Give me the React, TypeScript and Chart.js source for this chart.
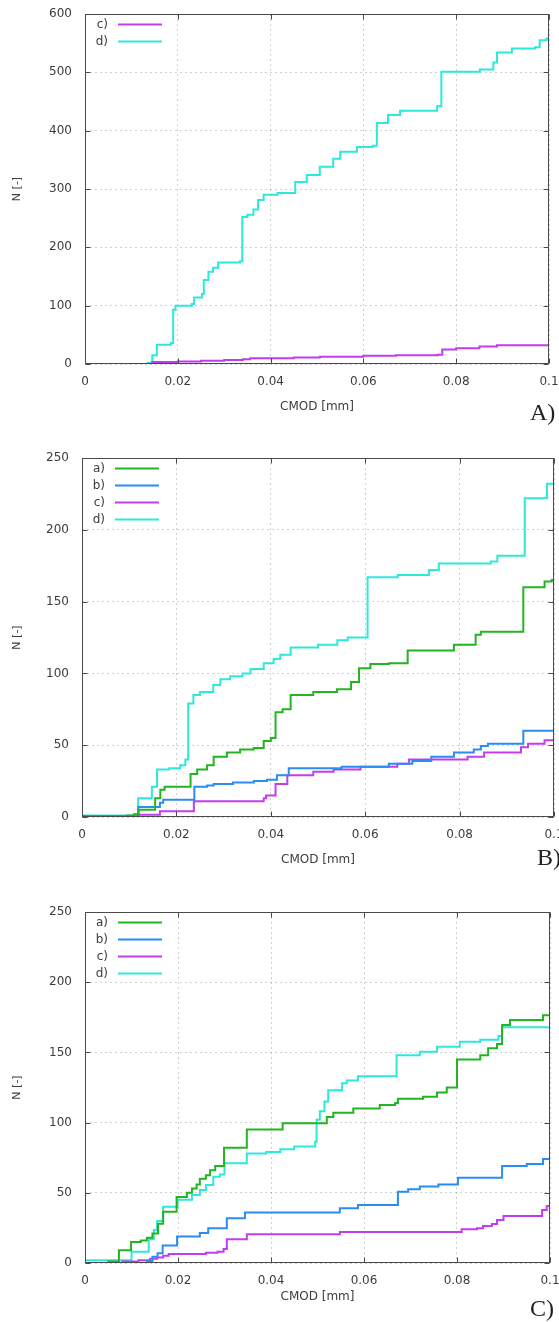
import React, { useEffect, useRef } from 'react';
import { Chart, registerables } from 'chart.js';

Chart.register(...registerables);

type Pt = [number, number];

// ---------- data ----------
const seriesNames = ['a)', 'b)', 'c)', 'd)'];
const seriesColors = ['#22b522', '#2b8cf2', '#c23cf0', '#2ee8da'];

const xTickValues = [0, 0.02, 0.04, 0.06, 0.08, 0.1];
const xTickLabels = ['0', '0.02', '0.04', '0.06', '0.08', '0.1'];
const yTicksA = [0, 100, 200, 300, 400, 500, 600];
const yTicksBC = [0, 50, 100, 150, 200, 250];

// Panel A
const A_c: Pt[] = [[0, 0], [0.0145, 3.5], [0.02, 4.5], [0.025, 5.7], [0.03, 7], [0.034, 8], [0.0356, 10], [0.045, 11], [0.0506, 12.5], [0.06, 14], [0.067, 15], [0.076, 16], [0.077, 25], [0.08, 27], [0.085, 30], [0.0888, 32], [0.1, 32]];
const A_d: Pt[] = [[0, 0], [0.0135, 2], [0.0145, 15], [0.0155, 33], [0.0185, 36], [0.019, 93], [0.0195, 100], [0.023, 103], [0.0235, 114], [0.0252, 120], [0.0256, 144], [0.0266, 158], [0.0276, 165], [0.0287, 174], [0.0334, 176], [0.0339, 252], [0.035, 256], [0.0363, 265], [0.0373, 281], [0.0385, 290], [0.0415, 293], [0.0453, 312], [0.0478, 324], [0.0506, 338], [0.0535, 352], [0.055, 364], [0.0586, 372], [0.062, 374], [0.0629, 413], [0.0653, 427], [0.0679, 434], [0.0759, 442], [0.0768, 501], [0.0851, 505], [0.088, 517], [0.0888, 534], [0.092, 541], [0.097, 543], [0.098, 555], [0.0995, 558], [0.1, 558]];

// Panel B
const B_a: Pt[] = [[0, 0.5], [0.0095, 1], [0.011, 2], [0.012, 5], [0.0155, 13], [0.0166, 19], [0.0175, 21], [0.023, 30], [0.0244, 33], [0.0265, 36], [0.0279, 42], [0.0307, 45], [0.0335, 47], [0.0364, 48], [0.0385, 53], [0.04, 55], [0.041, 73], [0.0425, 75], [0.0442, 85], [0.049, 87], [0.054, 89], [0.057, 94], [0.0587, 103.5], [0.0611, 106.5], [0.065, 107], [0.069, 116], [0.0788, 120], [0.0834, 127], [0.0845, 129], [0.0935, 160], [0.098, 164], [0.0995, 165], [0.1, 165]];
const B_b: Pt[] = [[0, 0.5], [0.0119, 7], [0.0165, 10], [0.0172, 12], [0.0238, 21], [0.0265, 22], [0.0279, 23], [0.032, 24], [0.0364, 25], [0.0392, 26], [0.0413, 29], [0.0438, 34], [0.055, 35], [0.065, 37], [0.07, 39], [0.074, 42], [0.0788, 45], [0.083, 47], [0.0845, 49.5], [0.086, 51], [0.0935, 60], [0.1, 60]];
const B_c: Pt[] = [[0, 0], [0.012, 1.5], [0.0165, 4], [0.0237, 11], [0.0385, 13], [0.039, 15], [0.041, 23], [0.0435, 29], [0.049, 31.5], [0.0533, 33], [0.059, 35], [0.0668, 37], [0.0693, 40], [0.0817, 42], [0.0852, 45], [0.093, 48.5], [0.0945, 51], [0.098, 53.5], [0.1, 54]];
const B_d: Pt[] = [[0, 1], [0.0119, 13], [0.0148, 21], [0.0159, 33], [0.0185, 34], [0.0208, 36], [0.0219, 40], [0.0225, 79], [0.0236, 85], [0.025, 87], [0.0278, 92], [0.0293, 96], [0.0314, 98], [0.034, 100], [0.0357, 103], [0.0385, 107], [0.0406, 110], [0.042, 113], [0.0442, 118], [0.05, 120], [0.0541, 123], [0.0563, 125], [0.0605, 167], [0.0669, 168.5], [0.0735, 172], [0.0756, 176.5], [0.0866, 178], [0.088, 182], [0.0938, 222], [0.0985, 232], [0.1, 232]];

// Panel C
const C_a: Pt[] = [[0, 0], [0.005, 1], [0.0073, 9], [0.0099, 15], [0.012, 16], [0.0133, 18], [0.0145, 21], [0.0157, 28], [0.0168, 36.5], [0.0197, 47], [0.0219, 50], [0.023, 53], [0.024, 56], [0.0247, 60], [0.026, 62.5], [0.0269, 66], [0.028, 69], [0.0299, 82], [0.0348, 95], [0.0425, 99.5], [0.052, 104], [0.0534, 107], [0.0577, 110], [0.0634, 112.5], [0.0667, 114], [0.0673, 117], [0.0727, 118.5], [0.0757, 121.5], [0.0778, 125], [0.08, 145], [0.085, 148], [0.0867, 153], [0.0886, 156], [0.0897, 169.5], [0.0914, 173], [0.0985, 176.5], [0.1, 176.5]];
const C_b: Pt[] = [[0, 0], [0.0133, 1.5], [0.0145, 4.5], [0.0156, 7], [0.0167, 12.5], [0.0198, 18.8], [0.0247, 21.4], [0.0265, 24.7], [0.0305, 31.8], [0.0344, 36], [0.0548, 39], [0.0587, 41.3], [0.0673, 50.8], [0.0695, 52.5], [0.072, 54.4], [0.076, 56], [0.0802, 60.8], [0.0897, 69], [0.095, 70.5], [0.0985, 74], [0.1, 74]];
const C_c: Pt[] = [[0, 0], [0.008, 1], [0.0115, 2], [0.014, 3], [0.0155, 4], [0.0168, 5.2], [0.018, 6.4], [0.026, 7.3], [0.0285, 8], [0.0298, 10], [0.0305, 17], [0.0348, 20.4], [0.0548, 22], [0.081, 24], [0.0843, 24.7], [0.0856, 26.3], [0.0875, 27.8], [0.0886, 30.6], [0.09, 33.5], [0.0983, 37.7], [0.0993, 40.6], [0.1, 40.6]];
const C_d: Pt[] = [[0, 2], [0.01, 8], [0.0137, 17], [0.0148, 23.5], [0.0155, 30], [0.0168, 40], [0.0199, 45], [0.023, 48.4], [0.0247, 52], [0.026, 55.5], [0.0276, 61.5], [0.029, 63], [0.03, 71], [0.0348, 78], [0.039, 79], [0.042, 81], [0.045, 83], [0.0495, 86.4], [0.0498, 102], [0.0505, 108], [0.0515, 115], [0.0523, 123], [0.0553, 128], [0.0563, 130], [0.0587, 133], [0.067, 148], [0.072, 150.5], [0.0757, 154], [0.0806, 157.5], [0.085, 159], [0.0889, 161.7], [0.0897, 168], [0.1, 168]];

// ---------- layout ----------
const W = 559;
const FONT = "'DejaVu Sans', sans-serif";
const TEXT = '#3c3c3c';
const GRID = 'rgba(120,120,120,0.35)';

interface SeriesCfg { label: string; color: string; data: Pt[] }
interface PanelCfg {
  top: number; height: number;
  area: { l: number; r: number; t: number; b: number };
  titleCenter: number;
  yTicks: number[];
  series: SeriesCfg[];
  tag: string; tagX: number; tagTop: number;
}

const framePlugin = {
  id: 'gpFrame',
  afterDraw(chart: any) {
    const ctx = chart.ctx;
    const { left, right, top, bottom } = chart.chartArea;
    const L = Math.round(left) + 0.5, R = Math.round(right) - 0.5;
    const T = Math.round(top) + 0.5, B = Math.round(bottom) - 0.5;
    ctx.save();
    ctx.strokeStyle = '#4a4a4a';
    ctx.lineWidth = 1;
    ctx.setLineDash([]);
    ctx.strokeRect(L, T, R - L, B - T);
    const xs = chart.scales.x, ys = chart.scales.y;
    ctx.beginPath();
    xs.ticks.forEach((t: any) => {
      const p = Math.round(xs.getPixelForValue(t.value)) + 0.5;
      ctx.moveTo(p, B); ctx.lineTo(p, B - 5);
      ctx.moveTo(p, T); ctx.lineTo(p, T + 5);
    });
    ys.ticks.forEach((t: any) => {
      const p = Math.round(ys.getPixelForValue(t.value)) + 0.5;
      ctx.moveTo(L, p); ctx.lineTo(L + 5, p);
      ctx.moveTo(R, p); ctx.lineTo(R - 5, p);
    });
    ctx.stroke();
    // legend (gnuplot style: label then line sample)
    ctx.font = `12px ${FONT}`;
    ctx.textAlign = 'right';
    ctx.textBaseline = 'middle';
    chart.data.datasets.forEach((ds: any, i: number) => {
      const y = top + 10.5 + i * 17;
      ctx.fillStyle = TEXT;
      ctx.fillText(ds.label, left + 23, y);
      ctx.strokeStyle = ds.borderColor;
      ctx.lineWidth = 2;
      ctx.beginPath();
      ctx.moveTo(left + 33, y);
      ctx.lineTo(left + 77, y);
      ctx.stroke();
    });
    ctx.restore();
  },
};

function Panel({ cfg }: { cfg: PanelCfg }) {
  const ref = useRef<HTMLCanvasElement>(null);
  useEffect(() => {
    const canvas = ref.current;
    if (!canvas) return;
    const { area, height } = cfg;
    const pb = Math.round(height - cfg.titleCenter - 7.2);
    const xh = height - pb - area.b;
    const yMax = cfg.yTicks[cfg.yTicks.length - 1];
    const chart = new Chart(canvas, {
      type: 'line',
      data: {
        datasets: cfg.series.map((s) => ({
          label: s.label,
          data: s.data.map(([x, y]) => ({ x, y })),
          borderColor: s.color,
          backgroundColor: s.color,
          borderWidth: 2,
          pointRadius: 0,
          stepped: true,
          fill: false,
        })),
      },
      options: {
        responsive: false,
        maintainAspectRatio: false,
        animation: false,
        devicePixelRatio: 1,
        layout: { padding: { left: 0, top: area.t, right: W - area.r, bottom: pb } },
        plugins: { legend: { display: false }, tooltip: { enabled: false } },
        scales: {
          x: {
            type: 'linear',
            min: 0,
            max: 0.1,
            afterBuildTicks: (s: any) => { s.ticks = xTickValues.map((v) => ({ value: v })); },
            afterFit: (s: any) => { s.height = xh; s.paddingLeft = 0; s.paddingRight = 0; },
            ticks: {
              autoSkip: false,
              maxRotation: 0,
              padding: 11,
              color: TEXT,
              font: { family: FONT, size: 12 },
              callback: (_v: any, i: number) => xTickLabels[i],
            },
            grid: { color: GRID, lineWidth: 1, drawTicks: false },
            border: { display: false, dash: [2, 3] },
            title: {
              display: true,
              text: 'CMOD [mm]',
              color: TEXT,
              font: { family: FONT, size: 12 },
              padding: { top: 0, bottom: 0 },
            },
          },
          y: {
            type: 'linear',
            min: 0,
            max: yMax,
            afterBuildTicks: (s: any) => { s.ticks = cfg.yTicks.map((v) => ({ value: v })); },
            afterFit: (s: any) => { s.width = area.l; s.paddingTop = 0; s.paddingBottom = 0; },
            ticks: {
              autoSkip: false,
              padding: 13,
              color: TEXT,
              font: { family: FONT, size: 12 },
              callback: (v: any) => String(v),
            },
            grid: { color: GRID, lineWidth: 1, drawTicks: false },
            border: { display: false, dash: [2, 3] },
            title: {
              display: true,
              text: 'N [-]',
              color: TEXT,
              font: { family: FONT, size: 11 },
              padding: { top: 11, bottom: 0 },
            },
          },
        },
      } as any,
      plugins: [framePlugin],
    });
    return () => chart.destroy();
  }, [cfg]);

  return (
    <div style={{ position: 'absolute', left: 0, top: cfg.top, width: W, height: cfg.height }}>
      <canvas ref={ref} width={W} height={cfg.height} style={{ display: 'block', width: W, height: cfg.height }} />
      <span
        style={{
          position: 'absolute',
          left: cfg.tagX,
          top: cfg.tagTop,
          fontFamily: "'Liberation Serif', 'Times New Roman', serif",
          fontSize: 24,
          lineHeight: '24px',
          color: '#222',
          whiteSpace: 'nowrap',
        }}
      >
        {cfg.tag}
      </span>
    </div>
  );
}

const mk = (arr: Pt[][], idx: number[]): SeriesCfg[] =>
  arr.map((d, k) => ({ label: seriesNames[idx[k]], color: seriesColors[idx[k]], data: d }));

const panels: PanelCfg[] = [
  {
    top: 0, height: 440,
    area: { l: 85, r: 549, t: 14, b: 364 },
    titleCenter: 407,
    yTicks: yTicksA,
    series: mk([A_c, A_d], [2, 3]),
    tag: 'A)', tagX: 530, tagTop: 400,
  },
  {
    top: 440, height: 450,
    area: { l: 82, r: 554, t: 18, b: 377 },
    titleCenter: 420,
    yTicks: yTicksBC,
    series: mk([B_a, B_b, B_c, B_d], [0, 1, 2, 3]),
    tag: 'B)', tagX: 537, tagTop: 405,
  },
  {
    top: 890, height: 432,
    area: { l: 85, r: 550, t: 22, b: 373 },
    titleCenter: 407,
    yTicks: yTicksBC,
    series: mk([C_a, C_b, C_c, C_d], [0, 1, 2, 3]),
    tag: 'C)', tagX: 530, tagTop: 406,
  },
];

export default function App() {
  return (
    <div style={{ position: 'absolute', left: 0, top: 0, width: W, height: 1322, overflow: 'hidden', background: '#fff' }}>
      {panels.map((p, i) => (
        <Panel key={i} cfg={p} />
      ))}
    </div>
  );
}
